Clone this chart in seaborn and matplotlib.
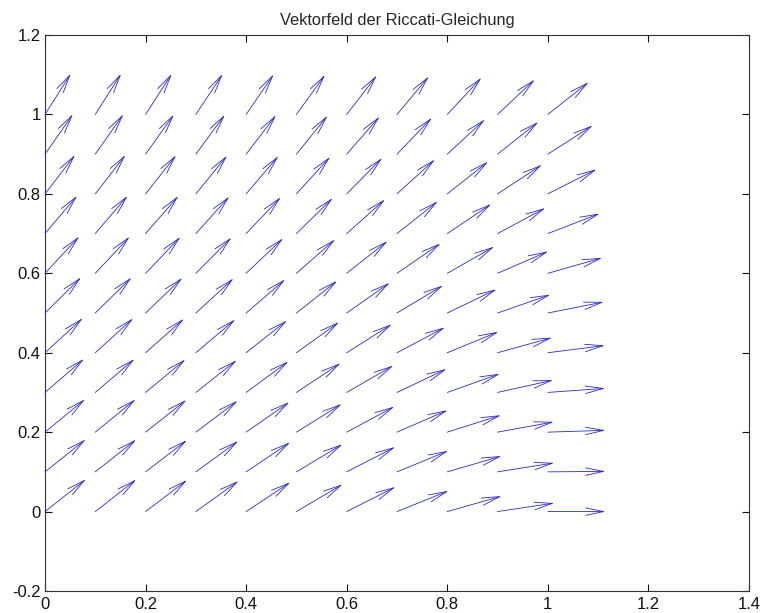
import numpy as np
import matplotlib
matplotlib.use("Agg")
import matplotlib.pyplot as plt
import seaborn as sns

# grid of the direction field
x_vals = [0.0, 0.1, 0.2, 0.3, 0.4, 0.5, 0.6, 0.7, 0.8, 0.9, 1.0]
y_vals = [0.0, 0.1, 0.2, 0.3, 0.4, 0.5, 0.6, 0.7, 0.8, 0.9, 1.0]

# slopes dy/dx, one row per y value
slopes = [
    [1.00, 0.99, 0.96, 0.91, 0.84, 0.75, 0.64, 0.51, 0.36, 0.19, 0.00],
    [1.01, 1.00, 0.97, 0.92, 0.85, 0.76, 0.65, 0.52, 0.37, 0.20, 0.01],
    [1.04, 1.03, 1.00, 0.95, 0.88, 0.79, 0.68, 0.55, 0.40, 0.23, 0.04],
    [1.09, 1.08, 1.05, 1.00, 0.93, 0.84, 0.73, 0.60, 0.45, 0.28, 0.09],
    [1.16, 1.15, 1.12, 1.07, 1.00, 0.91, 0.80, 0.67, 0.52, 0.35, 0.16],
    [1.25, 1.24, 1.21, 1.16, 1.09, 1.00, 0.89, 0.76, 0.61, 0.44, 0.25],
    [1.36, 1.35, 1.32, 1.27, 1.20, 1.11, 1.00, 0.87, 0.72, 0.55, 0.36],
    [1.49, 1.48, 1.45, 1.40, 1.33, 1.24, 1.13, 1.00, 0.85, 0.68, 0.49],
    [1.64, 1.63, 1.60, 1.55, 1.48, 1.39, 1.28, 1.15, 1.00, 0.83, 0.64],
    [1.81, 1.80, 1.77, 1.72, 1.65, 1.56, 1.45, 1.32, 1.17, 1.00, 0.81],
    [2.00, 1.99, 1.96, 1.91, 1.84, 1.75, 1.64, 1.51, 1.36, 1.19, 1.00],
]

x_ticks = [0, 0.2, 0.4, 0.6, 0.8, 1.0, 1.2, 1.4]
x_labels = ["0", "0.2", "0.4", "0.6", "0.8", "1", "1.2", "1.4"]
y_ticks = [-0.2, 0, 0.2, 0.4, 0.6, 0.8, 1.0, 1.2]
y_labels = ["-0.2", "0", "0.2", "0.4", "0.6", "0.8", "1", "1.2"]
title = "Vektorfeld der Riccati-Gleichung"

sns.set_style("white")
plt.rcParams["font.family"] = ["Liberation Sans", "DejaVu Sans"]

fig = plt.figure(figsize=(7.61, 6.13), dpi=100)
ax = fig.add_axes([45 / 761, 1 - 591 / 613, 704 / 761, 556 / 613])

arrow_len = 0.115
color = "#2a2ad0"
S = np.array(slopes)
for j, yv in enumerate(y_vals):
    for i, xv in enumerate(x_vals):
        s = S[j, i]
        n = np.hypot(1.0, s)
        u, v = arrow_len / n, arrow_len * s / n
        ax.annotate("", xy=(xv + u, yv + v), xytext=(xv, yv),
                    xycoords="data", textcoords="data",
                    arrowprops=dict(arrowstyle="->,head_length=1.3,head_width=0.27",
                                    color=color, lw=0.6,
                                    shrinkA=0, shrinkB=0))

ax.set_xlim(0, 1.4)
ax.set_ylim(-0.2, 1.2)
ax.set_xticks(x_ticks)
ax.set_xticklabels(x_labels)
ax.set_yticks(y_ticks)
ax.set_yticklabels(y_labels)
ax.tick_params(direction="in", length=5, width=0.8, top=True, right=True,
               bottom=True, left=True, labelsize=12, colors="#111111",
               pad=3)
ax.tick_params(axis="x", pad=4)
for sp in ax.spines.values():
    sp.set_color("#333333")
    sp.set_linewidth(0.8)
ax.set_title(title, fontsize=11.8, pad=7)

fig.savefig("out.png", dpi=100)
